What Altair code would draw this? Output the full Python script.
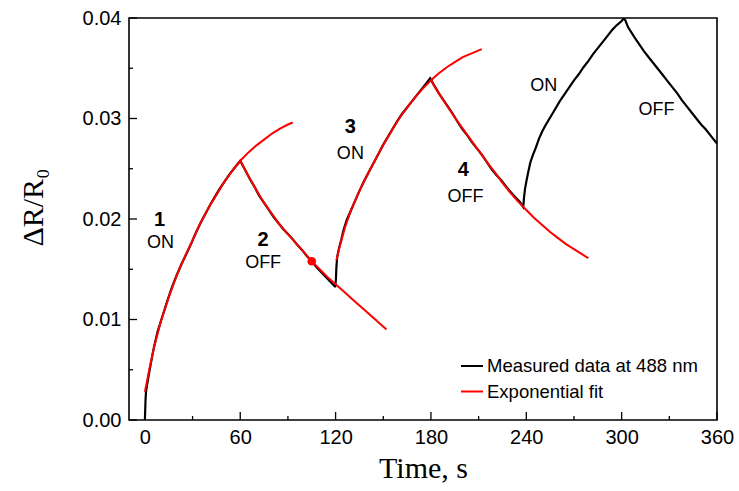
import altair as alt
import pandas as pd

# ---------------- data ----------------
meas_t = [0, 0.2, 0.4, 0.7, 1.5, 3, 5.5, 8, 11, 14, 17, 20, 23, 26, 29, 32, 35, 38, 41, 44, 47, 50, 53, 56, 58, 60,
          63, 66, 69, 72, 75, 78, 81, 84, 87, 90, 93, 96, 99, 102, 105, 108, 111, 114, 117, 119.5,
          119.8, 120.2, 120.5, 121, 122, 123.5, 125, 127, 129.5, 132, 135, 138, 141, 144, 147, 150, 153, 156, 159,
          162, 165, 168, 171, 174, 177, 179.5,
          182, 185, 188, 191, 194, 197, 200, 203, 206, 209, 212, 215, 218, 221, 224, 227, 230, 233, 236, 238,
          238.2, 238.6, 239.2, 240, 241, 242.5, 244, 246, 248, 250, 252, 255, 258, 261, 264, 267, 270, 273, 276,
          279, 282, 285, 288, 291, 294, 297, 300, 301.5,
          302.5, 304, 306, 308, 311, 314, 317, 320, 323, 326, 329, 332, 335, 338, 341, 344, 347, 350, 353, 356,
          358, 360]
meas_y = [0.0, 0.0010, 0.0020, 0.0028, 0.0036, 0.0050, 0.0071, 0.0088, 0.0103, 0.0118, 0.0132, 0.0144, 0.0155,
          0.0165, 0.0175, 0.0186, 0.0196, 0.0205, 0.0214, 0.0222, 0.0230, 0.0237, 0.0244, 0.0250, 0.0254, 0.0258,
          0.0249, 0.0240, 0.0232, 0.0223, 0.0216, 0.0209, 0.0202, 0.0196, 0.0190, 0.0185, 0.0180, 0.0174, 0.0169,
          0.0163, 0.0158, 0.0152, 0.0147, 0.0142, 0.0137, 0.0133,
          0.0133, 0.0140, 0.0152, 0.0162, 0.0170, 0.0179, 0.0189, 0.0199, 0.0208, 0.0217, 0.0228, 0.0238, 0.0247,
          0.0256, 0.0265, 0.0274, 0.0282, 0.0290, 0.0298, 0.0305, 0.0311, 0.0317, 0.0323, 0.0329, 0.0335, 0.0340,
          0.0333, 0.0325, 0.0318, 0.0311, 0.0304, 0.0296, 0.0289, 0.0283, 0.0276, 0.0270, 0.0264, 0.0257, 0.0250,
          0.0244, 0.0239, 0.0233, 0.0227, 0.0222, 0.0217, 0.0212,
          0.0214, 0.0222, 0.0230, 0.0237, 0.0245, 0.0256, 0.0263, 0.0271, 0.0280, 0.0287, 0.0293, 0.0301, 0.0309,
          0.0317, 0.0324, 0.0331, 0.0338, 0.0344, 0.0351, 0.0357, 0.0364, 0.0370, 0.0376, 0.0382, 0.0388, 0.0393,
          0.0397, 0.0400,
          0.0397, 0.0391, 0.0386, 0.0381, 0.0374, 0.0367, 0.0361, 0.0355, 0.0349, 0.0343, 0.0337, 0.0331, 0.0325,
          0.0318, 0.0312, 0.0306, 0.0300, 0.0294, 0.0289, 0.0283, 0.0279, 0.0275]

fit1_t = [0, 3, 6, 10, 15, 20, 25, 30, 35, 40, 45, 50, 55, 60, 65, 70, 75, 80, 85, 90, 93]
fit1_y = [0.0028, 0.0052, 0.0074, 0.0098, 0.0122, 0.0144, 0.0162, 0.0179, 0.0196, 0.0211, 0.0224, 0.0237,
          0.0248, 0.0258, 0.0266, 0.0273, 0.0279, 0.0285, 0.0290, 0.0294, 0.0296]
fit2_t = [60, 65, 70, 75, 80, 85, 90, 95, 100, 105, 110, 115, 120, 125, 130, 135, 140, 145, 152]
fit2_y = [0.0258, 0.0243, 0.0229, 0.0216, 0.0205, 0.0194, 0.0185, 0.0176, 0.0167, 0.0158, 0.0150, 0.0142,
          0.0135, 0.0128, 0.0121, 0.0114, 0.0107, 0.0100, 0.0090]
fit3_t = [120.5, 123, 126, 130, 135, 140, 145, 150, 155, 160, 165, 170, 175, 180, 185, 190, 195, 200, 206, 212]
fit3_y = [0.0159, 0.0175, 0.0192, 0.0210, 0.0228, 0.0244, 0.0259, 0.0274, 0.0287, 0.0300, 0.0311, 0.0321,
          0.0330, 0.0338, 0.0345, 0.0351, 0.0356, 0.0361, 0.0365, 0.0369]
fit4_t = [180, 185, 190, 195, 200, 205, 210, 215, 220, 225, 230, 235, 240, 245, 250, 255, 260, 265, 270, 275, 279]
fit4_y = [0.0338, 0.0325, 0.0313, 0.0301, 0.0290, 0.0279, 0.0268, 0.0257, 0.0247, 0.0236, 0.0226, 0.0217,
          0.0209, 0.0201, 0.0194, 0.0187, 0.0181, 0.0175, 0.0170, 0.0165, 0.0161]

dot_t = [105]
dot_y = [0.0158]

num_labels = ["1", "2", "3", "4"]
num_t = [9.3, 74.4, 129.3, 200.3]
num_y = [0.0199, 0.0179, 0.0292, 0.0249]
state_labels = ["ON", "OFF", "ON", "OFF", "ON", "OFF"]
state_t = [9.8, 74.4, 129.3, 201.7, 251, 322]
state_y = [0.0176, 0.0156, 0.0265, 0.0222, 0.0332, 0.0308]

x_major = [0, 60, 120, 180, 240, 300, 360]
x_minor = [30, 90, 150, 210, 270, 330]
y_major = [0.0, 0.01, 0.02, 0.03, 0.04]
y_minor = [0.005, 0.015, 0.025, 0.035]

S_MEAS = "Measured data at 488 nm"
S_FIT = "Exponential fit"

# ---------------- tables ----------------
meas = pd.DataFrame({"t": meas_t, "v": meas_y, "series": S_MEAS, "seg": 0})
fits = pd.concat([
    pd.DataFrame({"t": fit1_t, "v": fit1_y, "series": S_FIT, "seg": 1}),
    pd.DataFrame({"t": fit2_t, "v": fit2_y, "series": S_FIT, "seg": 2}),
    pd.DataFrame({"t": fit3_t, "v": fit3_y, "series": S_FIT, "seg": 3}),
    pd.DataFrame({"t": fit4_t, "v": fit4_y, "series": S_FIT, "seg": 4}),
])
dot = pd.DataFrame({"t": dot_t, "v": dot_y})
nums = pd.DataFrame({"t": num_t, "v": num_y, "lab": num_labels})
states = pd.DataFrame({"t": state_t, "v": state_y, "lab": state_labels})

W, H = 588, 402
xs = alt.Scale(domain=[-10, 360], nice=False, zero=False)
ys = alt.Scale(domain=[0, 0.04], nice=False, zero=False)
FONT = "Liberation Sans"
SERIF = "Liberation Serif"

color = alt.Color(
    "series:N",
    scale=alt.Scale(domain=[S_MEAS, S_FIT], range=["#000000", "#ff0000"]),
    legend=alt.Legend(
        orient="none", legendX=331, legendY=336, title=None,
        symbolType="stroke", symbolSize=484, symbolStrokeWidth=2,
        labelFont=FONT, labelFontSize=18.5, labelColor="black", labelLimit=500,
        labelOffset=3, rowPadding=3.5, padding=0, direction="vertical",
    ),
)

x_axis = alt.Axis(
    values=x_major, title="Time, s", titleFont=SERIF, titleFontSize=30, titleFontWeight="normal",
    titleColor="black", titleBaseline="alphabetic", titleY=57,
    labelFont=FONT, labelFontSize=20, labelColor="black", labelPadding=7,
    ticks=False, tickSize=0, domain=False, grid=False, labelFlush=False,
)
y_axis = alt.Axis(
    values=y_major, format=".2f", title="ΔR/R₀", titleFont=SERIF, titleFontSize=30,
    titleFontWeight="normal", titleColor="black", titleAngle=270, titleAlign="center",
    titleBaseline="alphabetic", titleX=-87, titleY=189,
    labelFont=FONT, labelFontSize=20, labelColor="black", labelPadding=8,
    ticks=False, tickSize=0, domain=False, grid=False, labelFlush=False,
)

meas_line = alt.Chart(meas).mark_line(strokeWidth=2.2, clip=True).encode(
    x=alt.X("t:Q", scale=xs, axis=x_axis),
    y=alt.Y("v:Q", scale=ys, axis=y_axis),
    color=color,
    order="t:Q",
)
fit_line = alt.Chart(fits).mark_line(strokeWidth=2, clip=True).encode(
    x=alt.X("t:Q", scale=xs),
    y=alt.Y("v:Q", scale=ys),
    color=color,
    detail="seg:N",
    order="t:Q",
)
dot_layer = alt.Chart(dot).mark_circle(size=75, color="#ff0000", opacity=1).encode(
    x=alt.X("t:Q", scale=xs), y=alt.Y("v:Q", scale=ys)
)
num_layer = alt.Chart(nums).mark_text(
    font=FONT, fontSize=20, fontWeight="bold", color="black", align="center", baseline="middle"
).encode(x=alt.X("t:Q", scale=xs), y=alt.Y("v:Q", scale=ys), text="lab:N")
state_layer = alt.Chart(states).mark_text(
    font=FONT, fontSize=18, color="black", align="center", baseline="middle"
).encode(x=alt.X("t:Q", scale=xs), y=alt.Y("v:Q", scale=ys), text="lab:N")

xmaj = alt.Chart(pd.DataFrame({"t": x_major})).mark_rule(color="black", strokeWidth=1.3).encode(
    x=alt.X("t:Q", scale=xs), y=alt.value(H), y2=alt.value(H - 8))
xmin = alt.Chart(pd.DataFrame({"t": x_minor})).mark_rule(color="black", strokeWidth=1.3).encode(
    x=alt.X("t:Q", scale=xs), y=alt.value(H), y2=alt.value(H - 4))
ymaj = alt.Chart(pd.DataFrame({"v": y_major})).mark_rule(color="black", strokeWidth=1.3).encode(
    y=alt.Y("v:Q", scale=ys), x=alt.value(0), x2=alt.value(8))
ymin = alt.Chart(pd.DataFrame({"v": y_minor})).mark_rule(color="black", strokeWidth=1.3).encode(
    y=alt.Y("v:Q", scale=ys), x=alt.value(0), x2=alt.value(4))

chart = alt.layer(
    xmaj, xmin, ymaj, ymin, meas_line, fit_line, dot_layer, num_layer, state_layer
).properties(
    width=W, height=H,
    autosize=alt.AutoSizeParams(type="none"),
    padding={"left": 129, "top": 18, "right": 22, "bottom": 71},
    background="white",
).configure_view(stroke="black", strokeWidth=1.6)

chart.save("out.html", embed_options={"renderer": "svg", "actions": False})
